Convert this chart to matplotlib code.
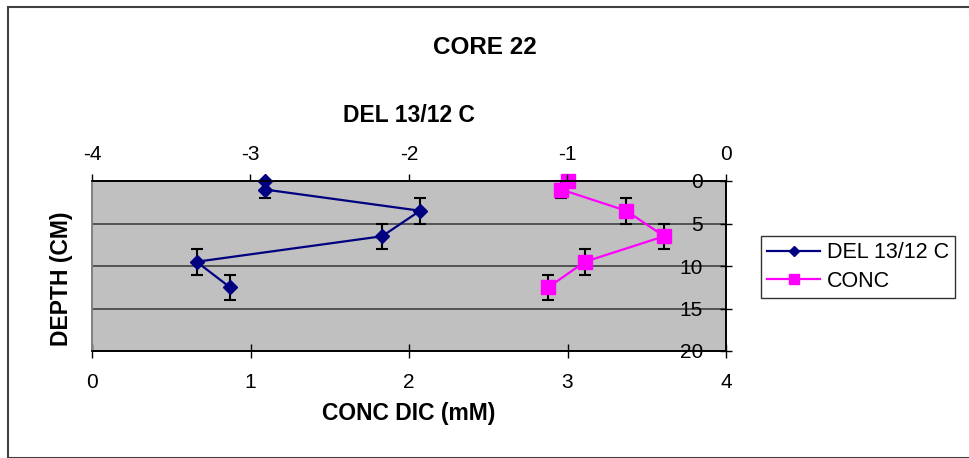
import numpy as np
import matplotlib.pyplot as plt
from matplotlib.lines import Line2D
from matplotlib.patches import Rectangle

plt.rcParams['font.family'] = ['Liberation Sans', 'DejaVu Sans']
plt.rcParams['axes.unicode_minus'] = False

# core 22 profile
depth = [0, 1, 3.5, 6.5, 9.5, 12.5]
depth_err = [0, 1, 1.5, 1.5, 1.5, 1.5]
del13c = [-2.91, -2.91, -1.93, -2.17, -3.34, -3.13]
conc_dic = [3.00, 2.96, 3.37, 3.61, 3.11, 2.88]

conc_ticks = [0, 1, 2, 3, 4]
del_ticks = [-4, -3, -2, -1, 0]
depth_ticks = [0, 5, 10, 15, 20]

fig = plt.figure(figsize=(9.69, 4.58), dpi=100)
fig.patches.append(Rectangle((8 / 969, 0), 1.0, 1 - 7 / 458, transform=fig.transFigure,
                             fill=False, edgecolor='#404040', linewidth=1.5))

ax = fig.add_axes([92 / 969, 107 / 458, 634 / 969, 170 / 458])
ax.set_facecolor('#c0c0c0')
ax2 = ax.twiny()

# bottom axis: concentration
ax.errorbar(conc_dic, depth, yerr=depth_err, color='#ff00ff', marker='s', markersize=10,
            linewidth=1.6, ecolor='black', elinewidth=1.5, capsize=4.3, capthick=1.5,
            clip_on=False)
ax.set_xlim(0, 4)
ax.set_xticks(conc_ticks)
ax.set_xlabel('CONC DIC (mM)', fontsize=16.5, fontweight='bold', labelpad=7)

# top axis: isotope ratio
ax2.errorbar(del13c, depth, yerr=depth_err, color='#000080', marker='D', markersize=7,
             linewidth=1.6, ecolor='black', elinewidth=1.5, capsize=4.3, capthick=1.5,
             clip_on=False)
ax2.set_xlim(-4, 0)
ax2.set_xticks(del_ticks)
ax2.set_xlabel('DEL 13/12 C', fontsize=16.5, fontweight='bold', labelpad=17)

ax.set_ylim(20, 0)
ax.set_yticks(depth_ticks)
ax.yaxis.tick_right()
ax.yaxis.grid(True, color='#404040', linewidth=1.2)
ax.set_axisbelow(True)
fig.text(62 / 969, 1 - 279 / 458, 'DEPTH (CM)', rotation=90, ha='center', va='center',
         fontsize=16.5, fontweight='bold')

ax.tick_params(axis='x', direction='inout', length=10, width=1, labelsize=15, pad=11)
ax2.tick_params(axis='x', direction='out', length=5, width=1, labelsize=15, pad=7)
ax.tick_params(axis='y', direction='inout', length=8, width=1, labelsize=15, pad=-20.5)
for lab in ax.get_yticklabels():
    lab.set_horizontalalignment('right')

for a in (ax, ax2):
    for side in ('top', 'bottom', 'right'):
        a.spines[side].set_color('black')
        a.spines[side].set_linewidth(1.2)
    a.spines['left'].set_color('#808080')
    a.spines['left'].set_linewidth(1.2)

fig.text(0.5, 1 - 47 / 458, 'CORE 22', ha='center', va='center', fontsize=17.5, fontweight='bold')

handles = [Line2D([], [], color='#000080', marker='D', markersize=5.5, linewidth=1.6),
           Line2D([], [], color='#ff00ff', marker='s', markersize=7.5, linewidth=1.6)]
leg = fig.legend(handles, ['DEL 13/12 C', 'CONC'], loc='upper left',
                 bbox_to_anchor=(761 / 969, 1 - 236 / 458),
                 fontsize=15.5, frameon=True, fancybox=False, handlelength=2.45,
                 handletextpad=0.3, borderpad=0.3, labelspacing=0.35, borderaxespad=0)
leg.get_frame().set_edgecolor('black')
leg.get_frame().set_linewidth(1.0)

fig.savefig('out.png', dpi=100)
